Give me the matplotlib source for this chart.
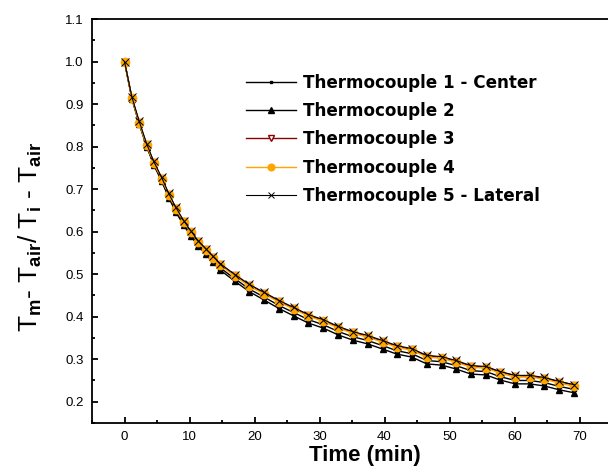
import numpy as np
import matplotlib
matplotlib.use('Agg')
import matplotlib.pyplot as plt
from matplotlib.ticker import MultipleLocator

plt.rcParams['font.family'] = ['Liberation Sans', 'DejaVu Sans']
plt.rcParams['mathtext.fontset'] = 'custom'
plt.rcParams['mathtext.rm'] = 'Liberation Sans:bold'
plt.rcParams['mathtext.it'] = 'Liberation Sans:bold'
plt.rcParams['mathtext.default'] = 'rm'

# time in minutes
time = [0, 1.13, 2.27, 3.4, 4.5, 5.7, 6.8, 7.9, 9.1, 10.2, 11.3, 12.5, 13.6, 14.7,
        17.0, 19.2, 21.5, 23.8, 26.0, 28.3, 30.6, 32.9, 35.1, 37.4, 39.7, 41.9,
        44.2, 46.5, 48.8, 51.0, 53.3, 55.6, 57.8, 60.1, 62.4, 64.6, 66.9, 69.2]

tc1 = [1.0, 0.914, 0.854, 0.802, 0.759, 0.721, 0.683, 0.649, 0.618, 0.594, 0.571, 0.551,
       0.533, 0.515, 0.489, 0.465, 0.446, 0.426, 0.410, 0.393, 0.381, 0.365, 0.353, 0.344,
       0.332, 0.320, 0.313, 0.297, 0.294, 0.285, 0.273, 0.271, 0.259, 0.250, 0.250, 0.245,
       0.236, 0.229]
tc2 = [1.0, 0.913, 0.853, 0.800, 0.757, 0.719, 0.680, 0.646, 0.615, 0.590, 0.567, 0.547,
       0.528, 0.510, 0.483, 0.459, 0.439, 0.419, 0.402, 0.385, 0.373, 0.357, 0.345, 0.336,
       0.324, 0.312, 0.305, 0.289, 0.286, 0.277, 0.265, 0.263, 0.251, 0.242, 0.242, 0.237,
       0.228, 0.221]
tc3 = [1.0, 0.915, 0.857, 0.805, 0.763, 0.726, 0.688, 0.655, 0.624, 0.600, 0.577, 0.558,
       0.540, 0.523, 0.497, 0.474, 0.455, 0.436, 0.420, 0.403, 0.391, 0.375, 0.363, 0.354,
       0.342, 0.330, 0.323, 0.308, 0.304, 0.295, 0.284, 0.281, 0.270, 0.261, 0.260, 0.255,
       0.247, 0.239]
tc4 = [1.0, 0.914, 0.855, 0.803, 0.761, 0.724, 0.686, 0.653, 0.622, 0.598, 0.575, 0.556,
       0.538, 0.521, 0.495, 0.472, 0.453, 0.434, 0.418, 0.401, 0.389, 0.373, 0.361, 0.352,
       0.340, 0.328, 0.321, 0.305, 0.302, 0.293, 0.281, 0.279, 0.267, 0.258, 0.258, 0.253,
       0.244, 0.236]
tc5 = [1.0, 0.917, 0.859, 0.807, 0.765, 0.728, 0.690, 0.657, 0.626, 0.602, 0.579, 0.560,
       0.542, 0.525, 0.499, 0.476, 0.457, 0.438, 0.422, 0.405, 0.393, 0.377, 0.365, 0.356,
       0.344, 0.332, 0.325, 0.309, 0.306, 0.297, 0.285, 0.283, 0.271, 0.262, 0.262, 0.257,
       0.248, 0.240]

labels = ['Thermocouple 1 - Center', 'Thermocouple 2', 'Thermocouple 3',
          'Thermocouple 4', 'Thermocouple 5 - Lateral']

fig = plt.figure(figsize=(6.08, 4.71), dpi=100)
W, H = 608, 471
ax = fig.add_axes([92 / W, 48 / H, (618.5 - 92) / W, 404 / H])

ax.plot(time, tc1, color='black', lw=1, marker='s', ms=2.5, label=labels[0])
ax.plot(time, tc2, color='black', lw=1, marker='^', ms=5, label=labels[1])
ax.plot(time, tc3, color='#8b0000', lw=1, marker='v', ms=5, mfc='white',
        mec='#8b0000', label=labels[2])
ax.plot(time, tc4, color='#ffa500', lw=1, marker='o', ms=6, label=labels[3])
ax.plot(time, tc5, color='black', lw=0.8, marker='x', ms=6, mew=0.7, label=labels[4])

ax.set_xlim(-5, 76)
ax.set_ylim(0.15, 1.1)
ax.xaxis.set_major_locator(MultipleLocator(10))
ax.xaxis.set_minor_locator(MultipleLocator(5))
ax.yaxis.set_major_locator(MultipleLocator(0.1))
ax.yaxis.set_minor_locator(MultipleLocator(0.05))
ax.tick_params(which='both', direction='in', width=1.3, labelsize=9.5, pad=6,
               top=False, right=False)
ax.tick_params(which='major', length=4)
ax.tick_params(which='minor', length=2)
ax.set_xticks(np.arange(0, 71, 10))
ax.set_yticks(np.arange(0.2, 1.11, 0.1))
ax.set_yticklabels(['%.1f' % v for v in np.arange(0.2, 1.11, 0.1)])

for s in ['left', 'bottom', 'top']:
    ax.spines[s].set_linewidth(1.3)
ax.spines['right'].set_visible(False)

ax.set_xlabel('Time (min)', fontsize=16, fontweight='bold')
ax.set_ylabel(r'T$_{m}$- T$_{air}$/ T$_{i}$ - T$_{air}$', fontsize=19)
ax.xaxis.set_label_coords(0.518, -0.055)
ax.yaxis.set_label_coords(-0.091, 0.46)

leg = ax.legend(loc='upper left', bbox_to_anchor=(0.2925, 0.865), frameon=False,
                borderpad=0, borderaxespad=0, handlelength=3.0, handletextpad=0.4,
                labelspacing=0.62, markerscale=0.8,
                prop={'family': 'DejaVu Sans', 'weight': 'bold', 'size': 12.1})

fig.savefig('out.png', dpi=100)
